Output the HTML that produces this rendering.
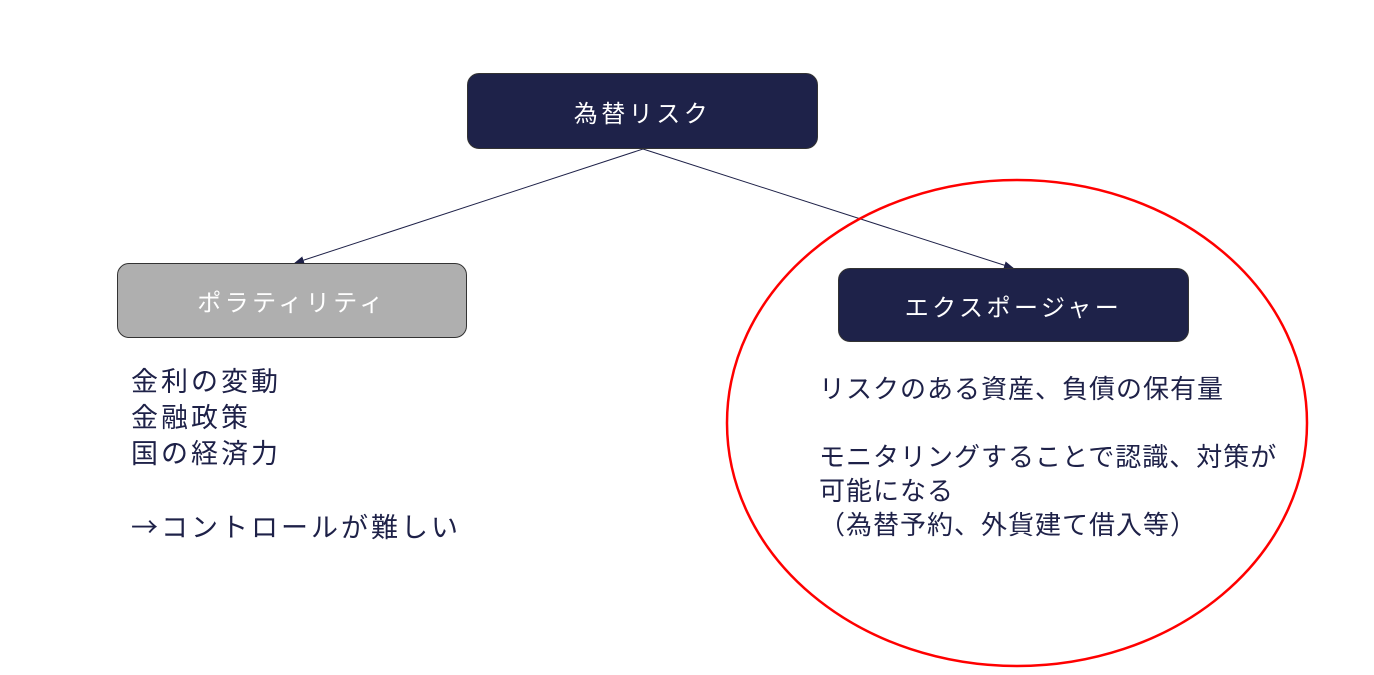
<!DOCTYPE html>
<html><head><meta charset="utf-8"><style>
body{margin:0;width:1374px;height:675px;background:#fff;overflow:hidden;position:relative;font-family:"Liberation Sans","Noto Sans CJK JP",sans-serif}
.box{position:absolute;border-radius:12px;display:flex;align-items:center;justify-content:center;color:#fff;font-size:24px;letter-spacing:3.5px;box-sizing:border-box}
.t{position:absolute;color:#1e2148;white-space:pre}
</style></head><body>
<svg width="1374" height="675" style="position:absolute;left:0;top:0">
<defs><marker id="a" markerWidth="10" markerHeight="8" refX="9" refY="4" orient="auto" markerUnits="userSpaceOnUse"><path d="M0,0 L10,4 L0,8z" fill="#1e2148"/></marker></defs>
<line x1="643" y1="149" x2="295" y2="263" stroke="#1e2148" stroke-width="1" marker-end="url(#a)"/>
<line x1="643" y1="149" x2="1013" y2="268" stroke="#1e2148" stroke-width="1" marker-end="url(#a)"/>
<ellipse cx="1017" cy="423" rx="290" ry="243" fill="none" stroke="#f00" stroke-width="2.5"/>
</svg>
<div class="box" style="left:467px;top:73px;width:351px;height:76px;background:#1e2249;border:1px solid #333">為替リスク</div>
<div class="box" style="left:117px;top:263px;width:350px;height:75px;background:#afafaf;border:1px solid #333">ポラティリティ</div>
<div class="box" style="left:838px;top:268px;width:351px;height:74px;background:#1e2249;border:1px solid #333">エクスポージャー</div>
<div class="t" style="left:131px;top:364px;font-size:27px;letter-spacing:3px;line-height:36px">金利の変動
金融政策
国の経済力

<span style="font-family:'Noto Sans CJK JP',sans-serif">→</span>コントロールが難しい</div>
<div class="t" style="left:819px;top:372px;font-size:26px;letter-spacing:1px;line-height:34px">リスクのある資産、負債の保有量

モニタリングすることで認識、対策が
可能になる
（為替予約、外貨建て借入等）</div>
</body></html>
